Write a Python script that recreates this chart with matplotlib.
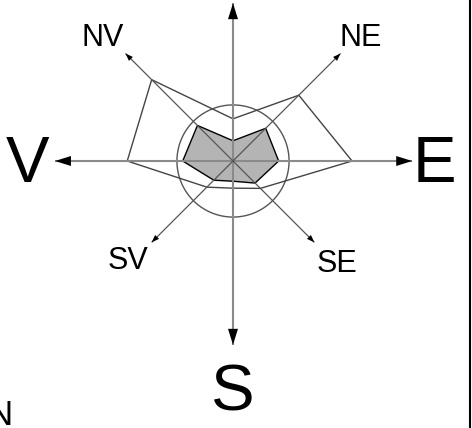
import numpy as np
import matplotlib
matplotlib.use("Agg")
import matplotlib.pyplot as plt

plt.rcParams['font.family'] = ['Liberation Sans', 'DejaVu Sans']

# date: roza vanturilor (frecventa %, viteza), ordinea N, NE, E, SE, S, SV, V, NV
directii = ['N', 'NE', 'E', 'SE', 'S', 'SV', 'V', 'NV']
frecventa = [7.3, 16.1, 20.6, 6.7, 4.7, 6.4, 18.3, 19.9]
viteza = [3.5, 8.0, 7.9, 5.4, 3.5, 4.7, 8.7, 8.7]
calm = 9.7

PX = 5.78  # pixeli pe unitate


def to_xy(vals):
    ang = np.deg2rad(np.arange(len(vals)) * 45.0)
    vals = np.array(vals)
    x = vals * np.sin(ang)
    y = vals * np.cos(ang)
    return np.append(x, x[0]), np.append(y, y[0])


def arrow(ax, x0, y0, x1, y1, lcol, lw, hl, hw):
    ax.plot([x0, x1], [y0, y1], color=lcol, lw=lw, zorder=3, solid_capstyle='butt')
    dx, dy = x1 - x0, y1 - y0
    ax.annotate('', xy=(x1, y1), xytext=(x1 - dx * 0.01, y1 - dy * 0.01),
                arrowprops=dict(arrowstyle='-|>,head_length=%g,head_width=%g' % (hl, hw),
                                color='black', lw=0, shrinkA=0, shrinkB=0), zorder=4)


def main():
    fig = plt.figure(figsize=(4.72, 4.28), dpi=100)
    ax = fig.add_axes([0, 0, 1, 1])
    ax.set_xlim(-233 / PX, (472 - 233) / PX)
    ax.set_ylim(-(428 - 161) / PX, 161 / PX)
    ax.axis('off')

    # poligon viteza (umplut)
    xv, yv = to_xy(viteza)
    ax.fill(xv, yv, facecolor='#b4b4b4', edgecolor='black', lw=1.0, zorder=1)

    # axe principale
    lung = {'N': 27.3, 'E': 31.0, 'S': 31.8, 'V': 30.8}
    arrow(ax, 0, 0, 0, lung['N'], '#8a8a8a', 1.5, 1.15, 0.36)
    arrow(ax, 0, 0, lung['E'], 0, '#8a8a8a', 1.5, 1.15, 0.36)
    arrow(ax, 0, 0, 0, -lung['S'], '#8a8a8a', 1.5, 1.15, 0.36)
    arrow(ax, 0, 0, -lung['V'], 0, '#8a8a8a', 1.5, 1.15, 0.36)

    # diagonale
    sus, jos = 26.3 / np.sqrt(2), 19.9 / np.sqrt(2)
    for sx, sy, r in [(1, 1, sus), (-1, 1, sus), (1, -1, jos), (-1, -1, jos)]:
        arrow(ax, 0, 0, sx * r, sy * r, '#555555', 0.9, 0.55, 0.2)

    # cerc calm
    t = np.linspace(0, 2 * np.pi, 200)
    ax.plot(calm * np.cos(t), calm * np.sin(t), color='#555555', lw=1.0, zorder=2)

    # poligon frecventa
    xf, yf = to_xy(frecventa)
    ax.plot(xf, yf, color='#444444', lw=1.0, zorder=2)

    # etichete
    mic = 22
    mare = 47
    ax.text(-22.5, 19.9, 'NV', fontsize=mic, ha='center', va='baseline')
    ax.text(22.1, 19.9, 'NE', fontsize=mic, ha='center', va='baseline')
    ax.text(-18.25, -18.7, 'SV', fontsize=mic, ha='center', va='baseline')
    ax.text(18.0, -19.2, 'SE', fontsize=mic, ha='center', va='baseline')
    ax.text(-35.6, -3.6, 'V', fontsize=mare, ha='center', va='baseline')
    ax.text(34.8, -3.6, 'E', fontsize=mare, ha='center', va='baseline')
    ax.text(0.0, -43.1, 'S', fontsize=mare, ha='center', va='baseline')
    ax.text(-38.1, -45.7, 'N', fontsize=25, ha='right', va='baseline')

    # margine dreapta
    ax.plot([470 / 472, 470 / 472], [0, 1], color='black', lw=1.5,
            transform=ax.transAxes, clip_on=False)

    fig.savefig('out.png', dpi=100)


if __name__ == '__main__':
    main()
